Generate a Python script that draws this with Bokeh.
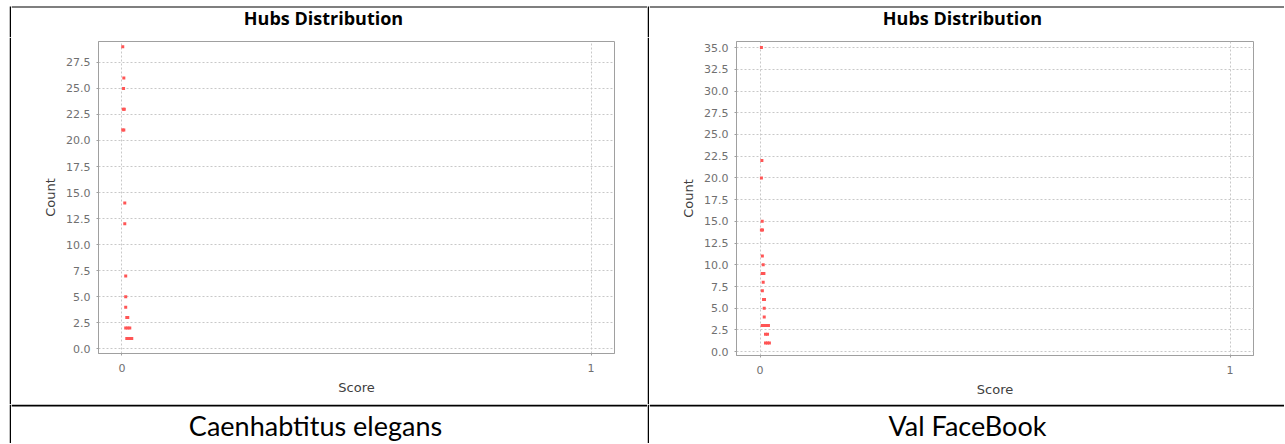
from bokeh.plotting import figure
from bokeh.layouts import row, column
from bokeh.models import Range1d, FixedTicker, PrintfTickFormatter
from bokeh.core.properties import value
from bokeh.embed import file_html
from bokeh.resources import INLINE

# ---------------- data ----------------
title_text = "Hubs Distribution"
x_label = "Score"
y_label = "Count"
captions = ["Caenhabtitus elegans", "Val FaceBook"]

x_ticks = [0, 1]
y_ticks_1 = [0.0, 2.5, 5.0, 7.5, 10.0, 12.5, 15.0, 17.5, 20.0, 22.5, 25.0, 27.5]
y_ticks_2 = [0.0, 2.5, 5.0, 7.5, 10.0, 12.5, 15.0, 17.5, 20.0, 22.5, 25.0, 27.5,
             30.0, 32.5, 35.0]

# Caenhabtitus elegans: hub score vs count
scores_1 = [0.0017, 0.0040, 0.0034, 0.0030, 0.0050, 0.0017, 0.0040, 0.0060, 0.0060,
            0.0080, 0.0080, 0.0080, 0.0103, 0.0124, 0.0080, 0.0124, 0.0167,
            0.0103, 0.0145, 0.0188, 0.0209]
counts_1 = [29, 26, 25, 23, 23, 21, 21, 14, 12,
            7, 5, 4, 3, 3, 2, 2, 2,
            1, 1, 1, 1]

# Val FaceBook: hub score vs count
scores_2 = [0.0030, 0.0040, 0.0030, 0.0047, 0.0030, 0.0053, 0.0050, 0.0068,
            0.0047, 0.0083, 0.0068, 0.0050, 0.0075, 0.0096, 0.0090, 0.0090,
            0.0047, 0.0089, 0.0132, 0.0180, 0.0117, 0.0160,
            0.0117, 0.0160, 0.0200]
counts_2 = [35, 22, 20, 15, 14, 14, 11, 10,
            9, 9, 8, 7, 6, 6, 5, 4,
            3, 3, 3, 3, 2, 2,
            1, 1, 1]

y_range_1 = (-0.45, 29.5)
y_range_2 = (-0.44, 35.7)
x_range_all = (-0.05, 1.05)

POINT = "#FF5555"
GRID = "#c8c8c8"
AXIS = "#a0a0a0"
TICKTXT = "#707070"
LABTXT = "#404040"


def blank(w, h, color="white"):
    # pixel-space panel: data units == pixels of the figure
    p = figure(width=w, height=h, x_range=Range1d(0, w), y_range=Range1d(h, 0),
               output_backend="svg", toolbar_location=None,
               x_axis_type=None, y_axis_type=None, min_border=0,
               outline_line_color=None, background_fill_color=color,
               border_fill_color=color)
    p.xgrid.visible = False
    p.ygrid.visible = False
    return p


def rule(p, x0, x1, y0, y1):
    # a black table rule drawn inside a pixel-space panel
    p.quad(left=[x0], right=[x1], top=[y0], bottom=[y1], fill_color="black",
           line_color=None)


def put_text(p, txt, x, y, font, size, style="normal"):
    p.text(x=[x], y=[y], text=[txt], text_font=value(font),
           text_font_size=value(size), text_font_style=style,
           text_align="center", text_baseline="middle", text_color="black")


def vbar(h, top=0):
    p = blank(2, h)
    rule(p, 0, 2, top, h)
    return p


def chart(w, h, bl, br, bt, bb, xs, ys, yticks, yr):
    p = figure(width=w, height=h, x_range=Range1d(*x_range_all), y_range=Range1d(*yr),
               output_backend="svg", toolbar_location=None,
               min_border_left=bl, min_border_right=br,
               min_border_top=bt, min_border_bottom=bb,
               background_fill_color="white", border_fill_color="white",
               outline_line_color=AXIS, outline_line_width=1)
    p.rect(x=xs, y=ys, width=3, height=3, width_units="screen", height_units="screen",
           fill_color=POINT, line_color=None)

    p.xaxis.ticker = FixedTicker(ticks=x_ticks)
    p.yaxis.ticker = FixedTicker(ticks=yticks)
    p.xaxis.formatter = PrintfTickFormatter(format="%d")
    p.yaxis.formatter = PrintfTickFormatter(format="%.1f")
    p.xgrid.ticker = FixedTicker(ticks=x_ticks)
    p.ygrid.ticker = FixedTicker(ticks=yticks)
    for g in (p.xgrid, p.ygrid):
        g.grid_line_color = GRID
        g.grid_line_dash = "2 2"
        g.grid_line_width = 1

    for ax in (p.xaxis, p.yaxis):
        ax.axis_line_color = AXIS
        ax.major_tick_line_color = AXIS
        ax.major_tick_out = 2
        ax.major_tick_in = 0
        ax.minor_tick_line_color = None
        ax.major_label_text_font = "DejaVu Sans"
        ax.major_label_text_font_size = "11px"
        ax.major_label_text_color = TICKTXT
        ax.axis_label_text_font = "DejaVu Sans"
        ax.axis_label_text_font_size = "13px"
        ax.axis_label_text_font_style = "normal"
        ax.axis_label_text_color = LABTXT
        ax.axis_label_standoff = 5
    p.xaxis.major_label_standoff = 8
    p.yaxis.major_label_standoff = 6
    p.xaxis.axis_label = x_label
    p.yaxis.axis_label = y_label
    return p


# ---------------- layout (table with two chart cells and two caption cells) ----
W1, W2 = 636, 635
TITLE_H, CHART_H, CAP_H = 37, 367, 39

# title strip: table top rule + chart titles
tp1 = blank(W1, TITLE_H)
rule(tp1, 0, W1, 6, 7)
put_text(tp1, title_text, 312, 17.7, "Open Sans", "18px", "bold")
tp2 = blank(W2, TITLE_H)
rule(tp2, 0, W2, 6, 7)
put_text(tp2, title_text, 313, 17.7, "Open Sans", "18px", "bold")

c1 = chart(W1, CHART_H, 87, 33, 4, 51, scores_1, counts_1, y_ticks_1, y_range_1)
c2 = chart(W2, CHART_H, 87, 31, 4, 49, scores_2, counts_2, y_ticks_2, y_range_2)

cap1 = blank(W1, CAP_H)
rule(cap1, 0, W1, 0, 2)
put_text(cap1, captions[0], 304, 20.6, "Lato", "27px")
cap2 = blank(W2, CAP_H)
rule(cap2, 0, W2, 0, 2)
put_text(cap2, captions[1], 318, 20.6, "Lato", "27px")

row0 = row(blank(9, TITLE_H), vbar(TITLE_H, 6), column(tp1),
           vbar(TITLE_H, 6), column(tp2))
row1 = row(blank(9, CHART_H), vbar(CHART_H), column(c1),
           vbar(CHART_H), column(c2))
row2 = row(blank(9, CAP_H), vbar(CAP_H), column(cap1), vbar(CAP_H), column(cap2))
page = column(row0, row1, row2)

open("out.html", "w").write(file_html(page, INLINE))
